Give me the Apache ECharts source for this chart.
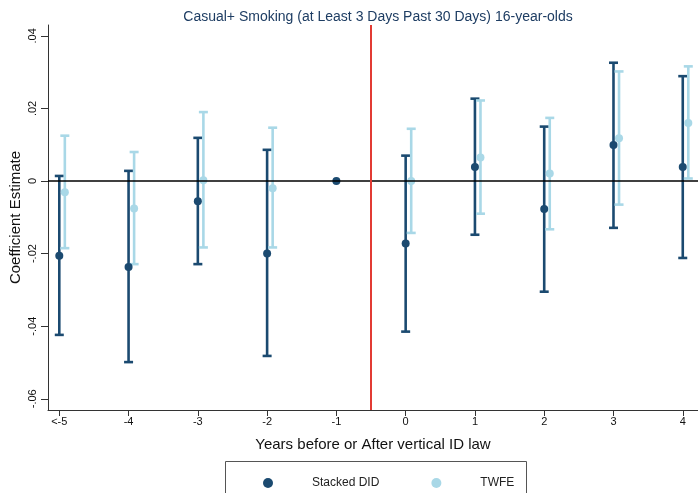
<!DOCTYPE html>
<html>
<head>
<meta charset="utf-8">
<script src="https://cdn.jsdelivr.net/npm/echarts@6/dist/echarts.min.js"></script>
<style>
  html, body { margin: 0; padding: 0; background: #fff; }
  #chart { width: 698px; height: 493px; }
</style>
</head>
<body>
<div id="chart"></div>
<script>
// event time (years relative to the law) and tick labels
var eventTime = [-5, -4, -3, -2, -1, 0, 1, 2, 3, 4];
var tickLabels = ["<-5", "-4", "-3", "-2", "-1", "0", "1", "2", "3", "4"];
var yTicks = [-0.06, -0.04, -0.02, 0, 0.02, 0.04];

// Stacked DID: estimate and 95% CI
var stackedEst = [-0.0206, -0.0237, -0.0056, -0.0200, 0.0000, -0.0172, 0.0039, -0.0077, 0.0099, 0.0039];
var stackedLo  = [-0.0424, -0.0499, -0.0229, -0.0482, null, -0.0415, -0.0148, -0.0305, -0.0129, -0.0212];
var stackedHi  = [ 0.0014,  0.0028,  0.0119,  0.0086, null,  0.0070,  0.0227,  0.0150,  0.0326,  0.0289];

// TWFE: estimate and 95% CI (no estimate at -1, reference year)
var twfeEst = [-0.0031, -0.0076, 0.0002, -0.0020, null, 0.0000, 0.0065, 0.0021, 0.0118, 0.0160];
var twfeLo  = [-0.0185, -0.0229, -0.0183, -0.0183, null, -0.0143, -0.0090, -0.0133, -0.0065, 0.0007];
var twfeHi  = [ 0.0125,  0.0080,  0.0190,  0.0147, null,  0.0144,  0.0222,  0.0174,  0.0302, 0.0316];

var navy = "#1b4a70";
var light = "#a9d8e7";
var twfeShift = 0.08;

function points(est, shift) {
  var out = [];
  for (var i = 0; i < eventTime.length; i++) {
    if (est[i] != null) out.push([eventTime[i] + shift, est[i]]);
  }
  return out;
}
function bars(lo, hi, shift) {
  var out = [];
  for (var i = 0; i < eventTime.length; i++) {
    if (lo[i] != null && hi[i] != null) out.push([eventTime[i] + shift, lo[i], hi[i]]);
  }
  return out;
}
function ciRender(color) {
  return function (params, api) {
    var x = api.value(0);
    var top = api.coord([x, api.value(2)]);
    var bot = api.coord([x, api.value(1)]);
    var hw = 4.5;
    var st = { stroke: color, lineWidth: 2.6 };
    return {
      type: "group",
      children: [
        { type: "line", shape: { x1: top[0], y1: top[1], x2: bot[0], y2: bot[1] }, style: st },
        { type: "line", shape: { x1: top[0] - hw, y1: top[1], x2: top[0] + hw, y2: top[1] }, style: st },
        { type: "line", shape: { x1: bot[0] - hw, y1: bot[1], x2: bot[0] + hw, y2: bot[1] }, style: st }
      ]
    };
  };
}

var myChart = echarts.init(document.getElementById("chart"));
var font = "Liberation Sans, Arial, Helvetica, sans-serif";

var option = {
  backgroundColor: "#fff",
  animation: false,
  title: {
    text: "Casual+ Smoking (at Least 3 Days Past 30 Days) 16-year-olds",
    left: 373,
    top: 5,
    textAlign: "center",
    textStyle: { fontFamily: font, fontSize: 14, fontWeight: "normal", color: "#1e3d63" }
  },
  grid: { left: 48, right: 0, top: 25, bottom: 83, containLabel: false, outerBoundsMode: "none" },
  legend: {
    data: ["Stacked DID", "TWFE"],
    left: 258,
    top: 472,
    icon: "circle",
    itemWidth: 10,
    itemHeight: 10,
    itemGap: 52,
    textStyle: { fontFamily: font, fontSize: 12, color: "#222", padding: [0, 0, 0, 34] }
  },
  graphic: [{
    type: "rect",
    left: 223,
    top: 459,
    shape: { width: 301, height: 50 },
    style: { fill: "none", stroke: "#555", lineWidth: 1 },
    silent: true
  }],
  xAxis: {
    type: "value",
    min: -5.163,
    max: 4.22,
    name: "Years before or After vertical ID law",
    nameLocation: "middle",
    nameGap: 27,
    nameTextStyle: { fontFamily: font, fontSize: 15, color: "#111" },
    axisLine: { onZero: false, lineStyle: { color: "#333", width: 1 } },
    axisTick: { length: 6, lineStyle: { color: "#333" }, customValues: eventTime },
    axisLabel: {
      customValues: eventTime,
      fontFamily: font, fontSize: 11, color: "#111", margin: 6,
      formatter: function (v) {
        var i = eventTime.indexOf(Math.round(v));
        return i >= 0 ? tickLabels[i] : "";
      }
    },
    splitLine: { show: false }
  },
  yAxis: {
    type: "value",
    min: -0.0631,
    max: 0.043,
    name: "Coefficient Estimate",
    nameLocation: "middle",
    nameGap: 25,
    nameMoveOverlap: false,
    nameTextStyle: { fontFamily: font, fontSize: 15, color: "#111" },
    axisLine: { show: true, onZero: false, lineStyle: { color: "#333", width: 1 } },
    axisTick: { show: true, length: 7, lineStyle: { color: "#333" }, customValues: yTicks },
    axisLabel: {
      customValues: yTicks,
      rotate: 90,
      fontFamily: font, fontSize: 11, color: "#111", margin: 10,
      formatter: function (v) {
        if (Math.abs(v) < 1e-9) return "0";
        var s = (Math.round(v * 100) / 100).toFixed(2);
        return s.replace("0.", ".");
      }
    },
    splitLine: { show: false }
  },
  series: [
    {
      type: "custom",
      name: "Stacked DID CI",
      renderItem: ciRender(navy),
      data: bars(stackedLo, stackedHi, 0),
      encode: { x: 0, y: [1, 2] },
      z: 2,
      silent: true,
      markLine: {
        silent: true,
        symbol: "none",
        label: { show: false },
        data: [
          { yAxis: 0, lineStyle: { color: "#000", width: 1.5, type: "solid" } },
          { xAxis: -0.5, lineStyle: { color: "#e23b34", width: 2, type: "solid" } }
        ]
      }
    },
    {
      type: "custom",
      name: "TWFE CI",
      renderItem: ciRender(light),
      data: bars(twfeLo, twfeHi, twfeShift),
      encode: { x: 0, y: [1, 2] },
      z: 2,
      silent: true
    },
    {
      type: "scatter",
      name: "Stacked DID",
      data: points(stackedEst, 0),
      symbolSize: 8,
      itemStyle: { color: navy, opacity: 1 },
      z: 4
    },
    {
      type: "scatter",
      name: "TWFE",
      data: points(twfeEst, twfeShift),
      symbolSize: 8,
      itemStyle: { color: light, opacity: 1 },
      z: 4
    }
  ]
};
myChart.setOption(option);
window.addEventListener("resize", function () { myChart.resize(); });
</script>
</body>
</html>
